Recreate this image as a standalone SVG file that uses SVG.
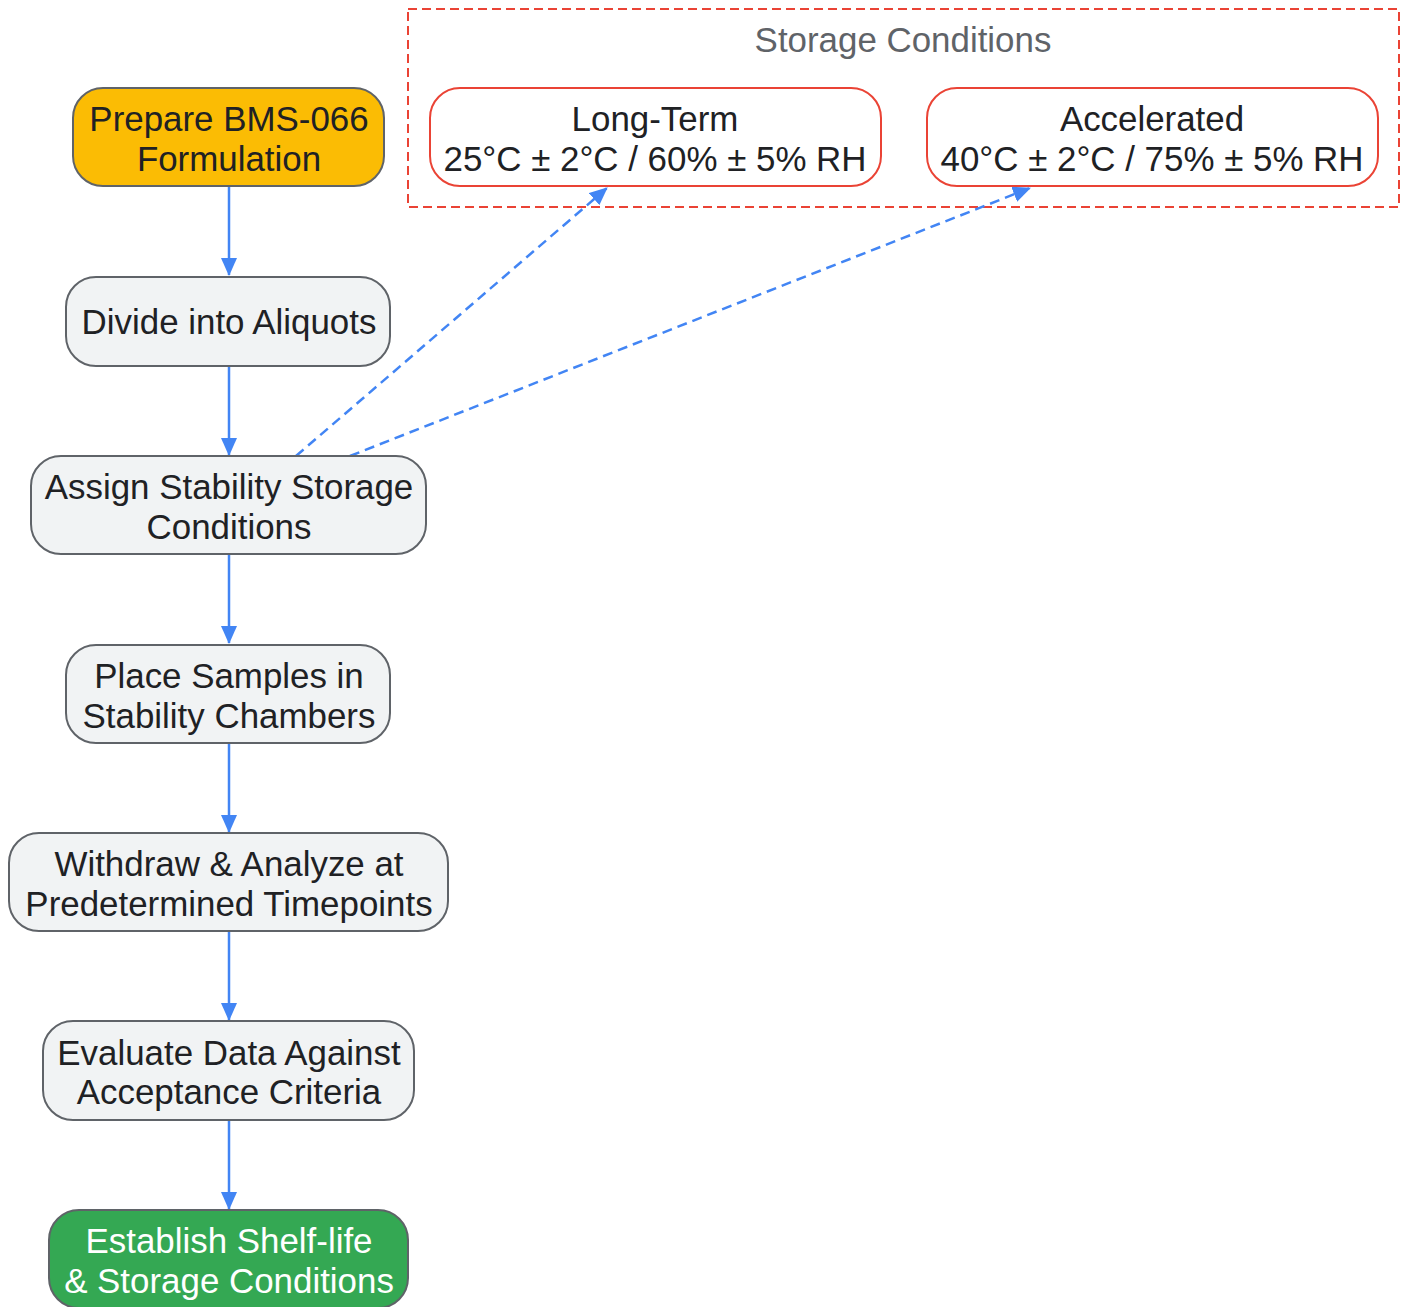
<svg xmlns="http://www.w3.org/2000/svg" width="1409" height="1307" viewBox="0 0 1409 1307">
<style>
.n rect{stroke:#5f6368;stroke-width:2}
.g rect{fill:#f1f3f4}
.t{font-family:"Liberation Sans",Arial,sans-serif;font-size:34.9px;fill:#202124;text-anchor:middle}
.w{fill:#ffffff}
.c{fill:none;stroke:#4285f4;stroke-width:2.5}
.d{stroke-dasharray:10,6}
.r rect{fill:#ffffff;stroke:#ea4335;stroke-width:2}
</style>
<defs>
<marker id="ah" markerWidth="18" markerHeight="16" refX="17" refY="8" orient="auto" markerUnits="userSpaceOnUse">
<path d="M0,0 L18,8 L0,16 Z" fill="#4285f4"/>
</marker>
</defs>
<rect x="408" y="9" width="991" height="198" fill="none" stroke="#ea4335" stroke-width="2" stroke-dasharray="9,5"/>
<text class="t" x="903" y="52" style="fill:#5f6368">Storage Conditions</text>
<g id="connectors">
<line class="c" x1="229" y1="187" x2="229" y2="275" marker-end="url(#ah)"/>
<line class="c" x1="229" y1="367" x2="229" y2="455" marker-end="url(#ah)"/>
<line class="c" x1="229" y1="555" x2="229" y2="643" marker-end="url(#ah)"/>
<line class="c" x1="229" y1="744" x2="229" y2="832" marker-end="url(#ah)"/>
<line class="c" x1="229" y1="932" x2="229" y2="1020" marker-end="url(#ah)"/>
<line class="c" x1="229" y1="1121" x2="229" y2="1209" marker-end="url(#ah)"/>
<line class="c d" x1="296" y1="456" x2="607" y2="188" marker-end="url(#ah)"/>
<line class="c d" x1="350" y1="456" x2="1030" y2="188" marker-end="url(#ah)"/>
</g>
<g id="prepare" class="n"><rect x="73" y="88" width="311" height="98" rx="30" fill="#fbbc04"/>
<text class="t" x="229" y="131">Prepare BMS-066</text><text class="t" x="229" y="171">Formulation</text></g>
<g id="divide" class="n g"><rect x="66" y="277" width="324" height="89" rx="30"/>
<text class="t" x="229" y="334">Divide into Aliquots</text></g>
<g id="assign" class="n g"><rect x="31" y="456" width="395" height="98" rx="30"/>
<text class="t" x="229" y="499">Assign Stability Storage</text><text class="t" x="229" y="539">Conditions</text></g>
<g id="place" class="n g"><rect x="66" y="645" width="324" height="98" rx="30"/>
<text class="t" x="229" y="688">Place Samples in</text><text class="t" x="229" y="728">Stability Chambers</text></g>
<g id="withdraw" class="n g"><rect x="9" y="833" width="439" height="98" rx="30"/>
<text class="t" x="229" y="876">Withdraw &amp; Analyze at</text><text class="t" x="229" y="916">Predetermined Timepoints</text></g>
<g id="evaluate" class="n g"><rect x="43" y="1021" width="371" height="99" rx="30"/>
<text class="t" x="229" y="1065">Evaluate Data Against</text><text class="t" x="229" y="1104">Acceptance Criteria</text></g>
<g id="establish" class="n"><rect x="49" y="1210" width="359" height="98" rx="30" fill="#34a853"/>
<text class="t w" x="229" y="1253">Establish Shelf-life</text><text class="t w" x="229" y="1293">&amp; Storage Conditions</text></g>
<g id="longterm" class="r"><rect x="430" y="88" width="451" height="98" rx="30"/>
<text class="t" x="655" y="131">Long-Term</text><text class="t" x="655" y="171">25°C ± 2°C / 60% ± 5% RH</text></g>
<g id="accelerated" class="r"><rect x="927" y="88" width="451" height="98" rx="30"/>
<text class="t" x="1152" y="131">Accelerated</text><text class="t" x="1152" y="171">40°C ± 2°C / 75% ± 5% RH</text></g>
</svg>
